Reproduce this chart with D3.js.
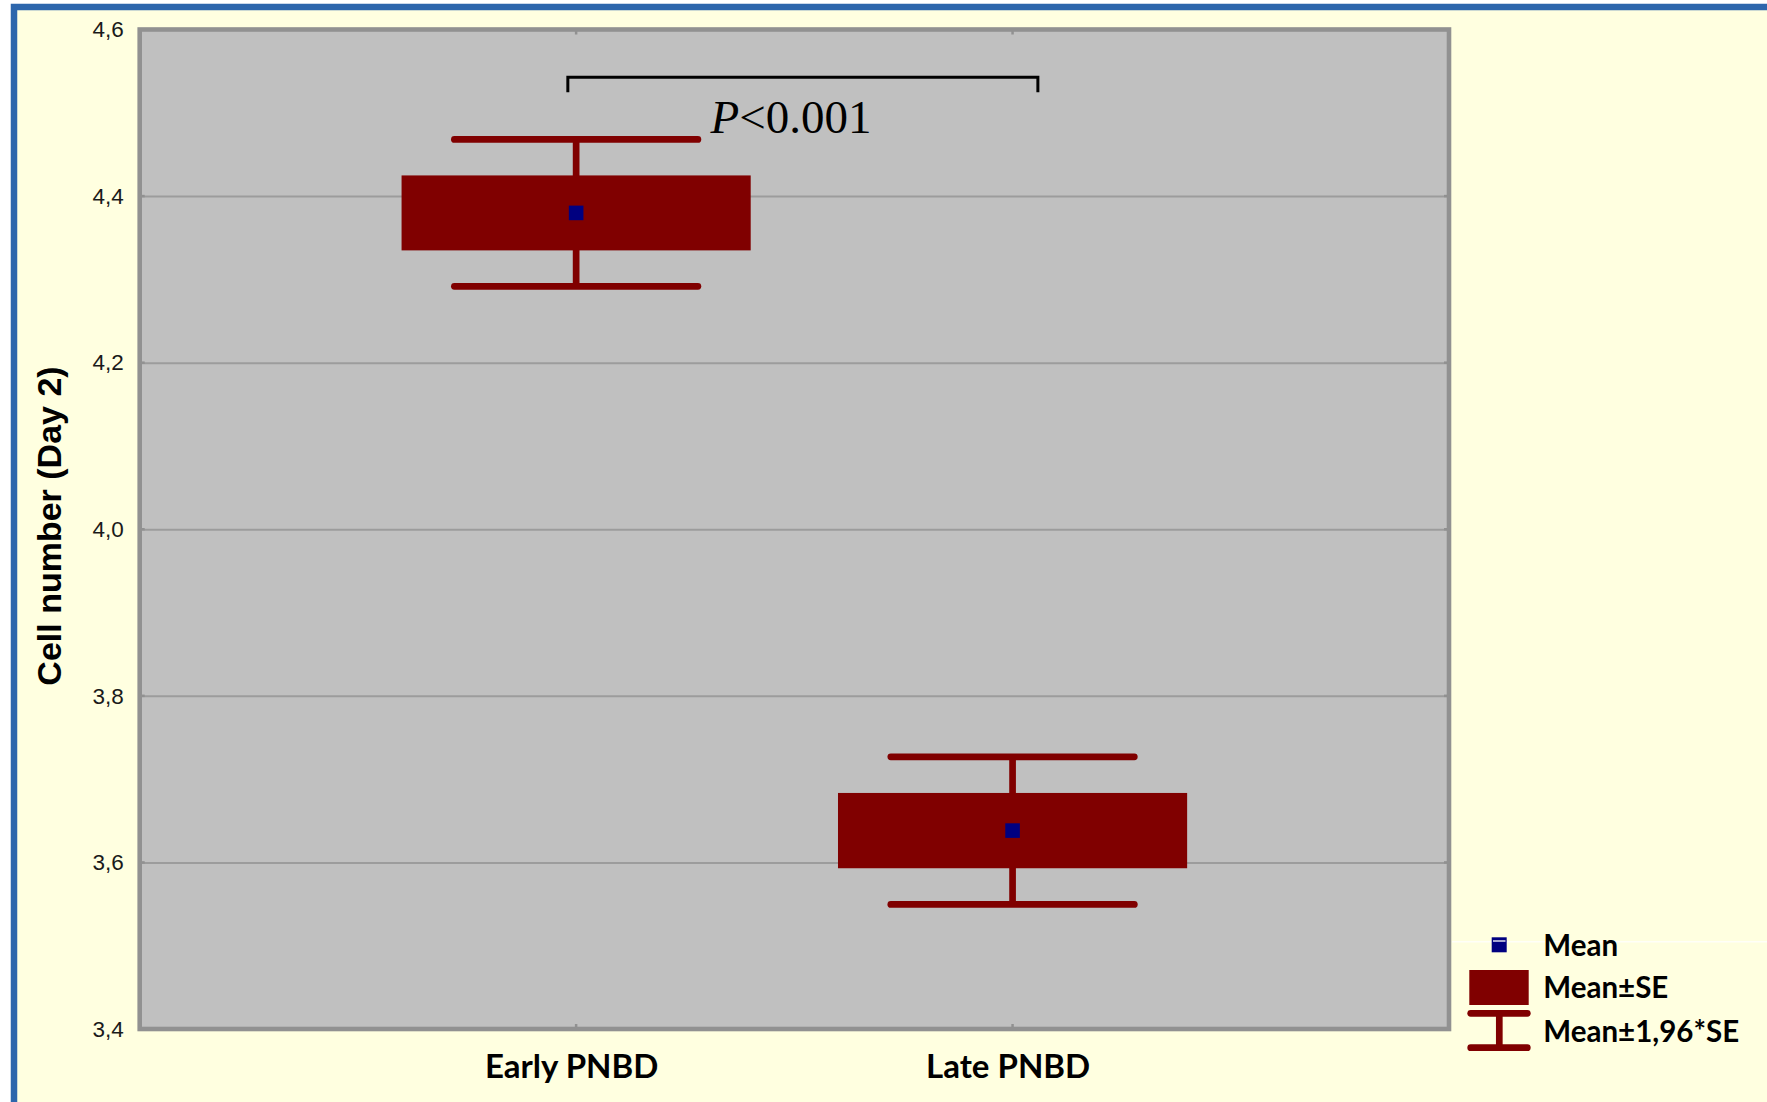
<!DOCTYPE html>
<html>
<head>
<meta charset="utf-8">
<script src="https://cdn.jsdelivr.net/npm/d3@7"></script>
<style>
  html, body { margin: 0; padding: 0; background: #ffffff; }
  svg { display: block; }
</style>
</head>
<body>
<svg id="chart" width="1767" height="1102"></svg>
<script>
// Cell number on day 2, mean with standard error box and 95% whiskers
const categories = ["Early PNBD", "Late PNBD"];
const means = [4.3798, 3.6382];
const stdErrs = [0.0450, 0.0452];
const zMultiplier = 1.96;

const yTicks = [3.4, 3.6, 3.8, 4.0, 4.2, 4.4, 4.6];
const yTickLabels = ["3,4", "3,6", "3,8", "4,0", "4,2", "4,4", "4,6"];
const yTitle = "Cell number (Day 2)";

const legendLabels = ["Mean", "Mean±SE", "Mean±1,96*SE"];

// significance bracket between the two groups (data units)
const bracketX = [0.981, 2.058];
const bracketY = [4.5428, 4.5248];
const pLabelItalic = "P";
const pLabelRest = "<0.001";

const W = 1767, H = 1102;
const plot = { left: 139.7, right: 1449, top: 29.5, bottom: 1029 };

const svg = d3.select("#chart");

const darkRed = "#800000";
const navy = "#000080";
const frameGray = "#919191";
const gridGray = "#9c9c9c";

// page background with the blue frame on the top and left edges
svg.append("rect")
  .attr("x", 14).attr("y", 7)
  .attr("width", W + 40).attr("height", H + 40)
  .attr("fill", "#ffffe0")
  .attr("stroke", "#2d66ac")
  .attr("stroke-width", 6.5);

// scales: categories sit at 1 and 2 on a 0..3 axis
const x = d3.scaleLinear().domain([0, 3]).range([plot.left, plot.right]);
const y = d3.scaleLinear().domain([3.4, 4.6]).range([plot.bottom, plot.top]);
const catX = i => x(i + 1);

// plot area
svg.append("rect")
  .attr("x", plot.left).attr("y", plot.top)
  .attr("width", plot.right - plot.left).attr("height", plot.bottom - plot.top)
  .attr("fill", "#c0c0c0");

// horizontal grid
const grid = svg.append("g")
  .attr("transform", `translate(${plot.left},0)`)
  .call(d3.axisRight(y).tickValues(yTicks.slice(1, -1)).tickSize(plot.right - plot.left).tickFormat(""));
grid.select(".domain").remove();
grid.selectAll(".tick line").attr("stroke", gridGray).attr("stroke-width", 2);

// left axis labels
const yAxis = svg.append("g")
  .attr("transform", `translate(${plot.left},0)`)
  .call(d3.axisLeft(y).tickValues(yTicks).tickSize(0).tickPadding(16)
    .tickFormat((d, i) => yTickLabels[i]));
yAxis.select(".domain").remove();
yAxis.selectAll(".tick text")
  .attr("font-family", "'Liberation Sans', Arial, sans-serif")
  .attr("font-size", 22.5)
  .attr("fill", "#1a1a1a");

// small inner ticks on the frame
const tickLen = 5;
const innerTicks = svg.append("g").attr("stroke", frameGray).attr("stroke-width", 2.5);
yTicks.forEach(v => {
  innerTicks.append("line").attr("x1", plot.left).attr("x2", plot.left + tickLen).attr("y1", y(v)).attr("y2", y(v));
  innerTicks.append("line").attr("x1", plot.right - tickLen).attr("x2", plot.right).attr("y1", y(v)).attr("y2", y(v));
});
categories.forEach((c, i) => {
  innerTicks.append("line").attr("x1", catX(i)).attr("x2", catX(i)).attr("y1", plot.bottom).attr("y2", plot.bottom - tickLen);
  innerTicks.append("line").attr("x1", catX(i)).attr("x2", catX(i)).attr("y1", plot.top).attr("y2", plot.top + tickLen);
});

// category labels
const xAxis = svg.append("g")
  .attr("transform", `translate(0,${plot.bottom})`)
  .call(d3.axisBottom(x).tickValues([1, 2]).tickSize(0).tickPadding(26)
    .tickFormat((d, i) => categories[i]));
xAxis.select(".domain").remove();
xAxis.selectAll(".tick text")
  .attr("font-family", "Lato, 'Open Sans', sans-serif")
  .attr("font-weight", "bold")
  .attr("font-size", 33)
  .attr("fill", "#000")
  .attr("dx", -5)
  .attr("dy", "0.71em");

// y title
svg.append("text")
  .attr("transform", `translate(61,526) rotate(-90)`)
  .attr("text-anchor", "middle")
  .attr("font-family", "'Liberation Sans', Arial, sans-serif")
  .attr("font-weight", "bold")
  .attr("font-size", 34)
  .attr("fill", "#000")
  .text(yTitle);

// boxes and whiskers
const boxHalf = 0.4;     // half box width, x units
const capHalf = 0.279;   // half whisker cap width, x units
const lineW = 6.7;
const groups = svg.append("g");
categories.forEach((c, i) => {
  const m = means[i], se = stdErrs[i];
  const cx = catX(i);
  const g = groups.append("g");
  // whisker stem
  g.append("line")
    .attr("x1", cx).attr("x2", cx)
    .attr("y1", y(m + zMultiplier * se)).attr("y2", y(m - zMultiplier * se))
    .attr("stroke", darkRed).attr("stroke-width", lineW);
  // caps
  [m + zMultiplier * se, m - zMultiplier * se].forEach(v => {
    g.append("line")
      .attr("x1", x(i + 1 - capHalf)).attr("x2", x(i + 1 + capHalf))
      .attr("y1", y(v)).attr("y2", y(v))
      .attr("stroke", darkRed).attr("stroke-width", lineW).attr("stroke-linecap", "round");
  });
  // standard error box
  g.append("rect")
    .attr("x", x(i + 1 - boxHalf)).attr("width", x(i + 1 + boxHalf) - x(i + 1 - boxHalf))
    .attr("y", y(m + se)).attr("height", y(m - se) - y(m + se))
    .attr("fill", darkRed);
  // mean marker
  g.append("rect")
    .attr("x", cx - 7.3).attr("y", y(m) - 7.3)
    .attr("width", 14.6).attr("height", 14.6)
    .attr("fill", navy);
});

// plot frame
svg.append("rect")
  .attr("x", plot.left).attr("y", plot.top)
  .attr("width", plot.right - plot.left).attr("height", plot.bottom - plot.top)
  .attr("fill", "none")
  .attr("stroke", frameGray).attr("stroke-width", 4.6);

// significance bracket
svg.append("path")
  .attr("d", d3.line()([
    [x(bracketX[0]), y(bracketY[1])],
    [x(bracketX[0]), y(bracketY[0])],
    [x(bracketX[1]), y(bracketY[0])],
    [x(bracketX[1]), y(bracketY[1])]
  ]))
  .attr("fill", "none").attr("stroke", "#000").attr("stroke-width", 3);

const pText = svg.append("text")
  .attr("x", x(1.308)).attr("y", y(4.4752))
  .attr("font-family", "'Liberation Serif', 'Times New Roman', serif")
  .attr("font-size", 47)
  .attr("fill", "#000");
pText.append("tspan").attr("font-style", "italic").text(pLabelItalic);
pText.append("tspan").text(pLabelRest);

// legend
const legend = svg.append("g");
legend.append("line")
  .attr("x1", plot.right + 3).attr("x2", W).attr("y1", 941.7).attr("y2", 941.7)
  .attr("stroke", "#ffffff").attr("stroke-width", 1.5).attr("opacity", 0.8);
// mean marker
legend.append("rect").attr("x", 1491.7).attr("y", 937.3).attr("width", 15).attr("height", 15).attr("fill", navy);
legend.append("line").attr("x1", 1493).attr("x2", 1505.5).attr("y1", 941).attr("y2", 941)
  .attr("stroke", "#ffffff").attr("stroke-width", 1.3);
// SE box
legend.append("rect").attr("x", 1469.3).attr("y", 970).attr("width", 59.4).attr("height", 35).attr("fill", darkRed);
// whisker symbol
legend.append("line").attr("x1", 1499.3).attr("x2", 1499.3).attr("y1", 1013.3).attr("y2", 1047.7)
  .attr("stroke", darkRed).attr("stroke-width", lineW);
[1013.3, 1047.7].forEach(yy => {
  legend.append("line").attr("x1", 1470.7).attr("x2", 1527.3).attr("y1", yy).attr("y2", yy)
    .attr("stroke", darkRed).attr("stroke-width", lineW).attr("stroke-linecap", "round");
});
const legendBaselines = [956, 998.3, 1041.7];
legendLabels.forEach((t, i) => {
  legend.append("text")
    .attr("x", 1543.3).attr("y", legendBaselines[i])
    .attr("font-family", "Lato, 'Open Sans', sans-serif")
    .attr("font-weight", "bold")
    .attr("font-size", 29.5)
    .attr("fill", "#000")
    .text(t);
});
</script>
</body>
</html>
